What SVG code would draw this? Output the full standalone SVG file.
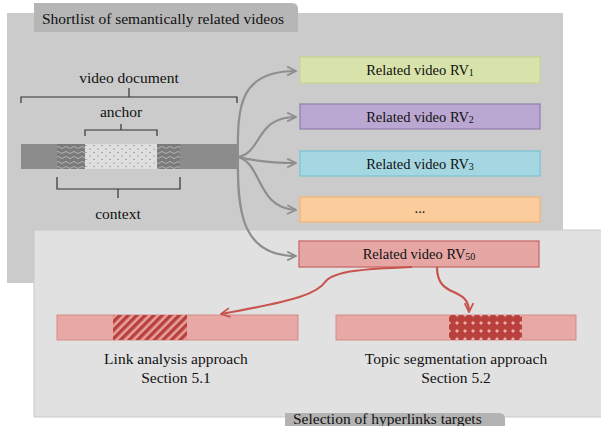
<svg xmlns="http://www.w3.org/2000/svg" width="601" height="426" viewBox="0 0 601 426">
<defs>
<style>
text{font-family:"Liberation Serif","Times New Roman",serif;fill:#111;}
.lbl{font-size:15.5px;text-anchor:middle;}
.rv{font-size:14.5px;text-anchor:middle;}
.sub{font-size:10px;}
.tab{font-size:15.5px;}
.brace{fill:none;stroke:#333;stroke-width:1.2;}
.gc{fill:none;stroke:#8e8e8e;stroke-width:2.2;}
.rc{fill:none;stroke:#c8544f;stroke-width:2.2;}
.box{stroke-width:1.3;}
</style>
<marker id="ag" viewBox="0 0 10 10" refX="9" refY="5" markerWidth="5" markerHeight="5" orient="auto" markerUnits="strokeWidth">
<path d="M1,1 L9,5 L1,9" fill="none" stroke="#8e8e8e" stroke-width="1.6"/>
</marker>
<marker id="ar" viewBox="0 0 10 10" refX="9" refY="5" markerWidth="5" markerHeight="5" orient="auto" markerUnits="strokeWidth">
<path d="M1,1 L9,5 L1,9" fill="none" stroke="#c8544f" stroke-width="1.6"/>
</marker>
<pattern id="wave" width="8" height="5" patternUnits="userSpaceOnUse">
<rect width="8" height="5" fill="#7b7b7b"/>
<path d="M0,2.5 Q2,0.5 4,2.5 T8,2.5" fill="none" stroke="#b8b8b8" stroke-width="0.9"/>
</pattern>
<pattern id="dots" width="8" height="7" patternUnits="userSpaceOnUse">
<rect width="8" height="7" fill="#dedede"/>
<circle cx="2" cy="2" r="0.6" fill="#666"/>
<circle cx="6" cy="5.5" r="0.6" fill="#666"/>
</pattern>
<pattern id="hatch" width="6" height="6" patternUnits="userSpaceOnUse" patternTransform="rotate(45)">
<rect width="6" height="6" fill="#e8a09d"/>
<rect width="3.4" height="6" fill="#b8413e"/>
</pattern>
<pattern id="diam" width="8" height="8" patternUnits="userSpaceOnUse" x="449" y="315">
<rect width="8" height="8" fill="#eeb0ad"/>
<circle cx="4" cy="4" r="4.4" fill="#b8413e"/>
</pattern>
</defs>

<g id="panel-shortlist">
<rect x="7" y="13" width="556" height="270" fill="#cbcbcb"/>
<path d="M34,3 H292 Q298,3 298,9 V32 H34 Z" fill="#b6b6b6"/>
<text class="tab" x="42" y="24">Shortlist of semantically related videos</text>
</g>

<g id="panel-selection">
<rect x="34" y="230" width="570" height="187" fill="#e1e1e1" stroke="#c9c9c9" stroke-width="1"/>
<path d="M285,413 H499 Q505,413 505,419 V430 H285 Z" fill="#b3b3b3"/>
<text class="tab" x="293" y="424">Selection of hyperlinks targets</text>
</g>

<g id="video-document">
<rect x="21" y="144" width="216" height="25" fill="#8c8c8c"/>
<rect x="57" y="144" width="28" height="25" fill="url(#wave)"/>
<rect x="85" y="144" width="72" height="25" fill="url(#dots)"/>
<rect x="157" y="144" width="23" height="25" fill="url(#wave)"/>
<path class="brace" d="M21,103 V97 H129 V88 M129,97 H237 V103"/>
<text class="lbl" x="129" y="83">video document</text>
<path class="brace" d="M85,136 V130 H121 V124 M121,130 H157 V136"/>
<text class="lbl" x="121" y="117">anchor</text>
<path class="brace" d="M57,177 V189 H118 V198 M118,189 H180 V177"/>
<text class="lbl" x="118" y="219">context</text>
</g>

<g id="rv1">
<rect class="box" x="300" y="57" width="240" height="26" fill="#d7e3aa" stroke="#c6d694"/>
<text class="rv" x="420" y="75">Related video RV<tspan class="sub" dy="1">1</tspan></text>
</g>
<g id="rv2">
<rect class="box" x="300" y="104" width="240" height="25" fill="#bba8d2" stroke="#9482ae"/>
<text class="rv" x="420" y="122">Related video RV<tspan class="sub" dy="1">2</tspan></text>
</g>
<g id="rv3">
<rect class="box" x="300" y="151" width="240" height="25" fill="#a5d7e3" stroke="#7ec3d2"/>
<text class="rv" x="420" y="169">Related video RV<tspan class="sub" dy="1">3</tspan></text>
</g>
<g id="rv-more">
<rect class="box" x="300" y="197" width="240" height="25" fill="#fbcd9c" stroke="#f3b57b"/>
<text class="rv" x="420" y="213">...</text>
</g>
<g id="rv50">
<rect class="box" x="299" y="241" width="240" height="26" fill="#e6a6a4" stroke="#c86a67"/>
<text class="rv" x="419" y="259">Related video RV<tspan class="sub" dy="1">50</tspan></text>
</g>

<g id="link-analysis">
<rect x="57" y="315" width="241" height="25" fill="#e8a8a6" stroke="#d38b88" stroke-width="1"/>
<rect x="113" y="315" width="74" height="25" fill="url(#hatch)"/>
<text class="lbl" x="176" y="364">Link analysis approach</text>
<text class="lbl" x="176" y="383">Section 5.1</text>
</g>

<g id="topic-segmentation">
<rect x="336" y="315" width="240" height="25" fill="#e8a8a6" stroke="#d38b88" stroke-width="1"/>
<rect x="449" y="315" width="73" height="25" fill="url(#diam)"/>
<text class="lbl" x="456" y="364">Topic segmentation approach</text>
<text class="lbl" x="456" y="383">Section 5.2</text>
</g>

<g id="connectors">
<path class="gc" marker-end="url(#ag)" d="M238,157 C237,105 240,71 296,71"/>
<path class="gc" marker-end="url(#ag)" d="M238,157 C263,152 255,117 296,117"/>
<path class="gc" marker-end="url(#ag)" d="M238,157 C255,161 270,163 296,163"/>
<path class="gc" marker-end="url(#ag)" d="M238,157 C263,164 256,208 296,210"/>
<path class="gc" marker-end="url(#ag)" d="M238,157 C237,212 242,256 296,256"/>
<path class="rc" marker-end="url(#ar)" d="M412,267 C362,269 335,271 326,281 C318,293 300,300 221,314"/>
<path class="rc" marker-end="url(#ar)" d="M437,267 C437,300 469,285 469,312"/>
</g>
</svg>
